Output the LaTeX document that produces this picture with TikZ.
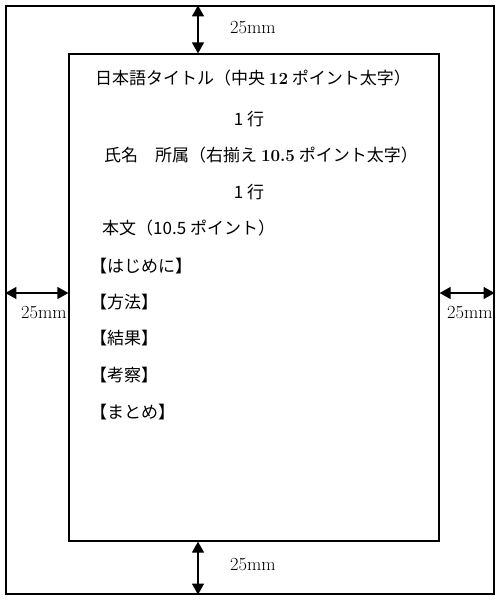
\documentclass[tikz,border=0pt]{standalone}
\usepackage{fontspec}
\newfontfamily\jpfont{Noto Sans CJK JP}
\usetikzlibrary{arrows.meta}
\newcommand{\bnum}[1]{{\normalfont\bfseries #1}}
\tikzset{
  pagebox/.style={
    rectangle, draw, line width=1.2pt, inner sep=0pt
  },
  dimarrow/.style={
    {Triangle[length=11pt,width=12pt]}-{Triangle[length=11pt,width=12pt]},
    line width=1.2pt
  },
  dimlabel/.style={
    font=\fontsize{18.5}{20}\selectfont, inner sep=0pt
  },
  titleline/.style={
    font=\jpfont\fontsize{17}{20}\selectfont, inner sep=0pt, anchor=base
  },
  bodyline/.style={
    font=\jpfont\fontsize{17}{20}\selectfont, inner sep=0pt, anchor=base west
  },
  midline/.style={
    font=\jpfont\fontsize{17}{20}\selectfont, inner sep=0pt, anchor=base
  },
}

\begin{document}
\begin{tikzpicture}[x=1pt,y=-1pt]
  \useasboundingbox (0,0) rectangle (500,600);

  % Paper and text area
  \node[pagebox, minimum width=488pt, minimum height=588pt] (paper) at (250,300) {};
  \node[pagebox, minimum width=370pt, minimum height=487pt] (textarea) at (254,297.5) {};
  \coordinate (vaxis) at (198,300);
  \coordinate (haxis) at (250,293);

  % Margins
  \draw[dimarrow] (paper.north -| vaxis) -- (textarea.north -| vaxis);
  \draw[dimarrow] (textarea.south -| vaxis) -- (paper.south -| vaxis);
  \draw[dimarrow] (paper.west |- haxis) -- (textarea.west |- haxis);
  \draw[dimarrow] (textarea.east |- haxis) -- (paper.east |- haxis);
  \node[dimlabel] (topgap) at (253,28) {25mm};
  \node[dimlabel] (botgap) at (253,565) {25mm};
  \node[dimlabel] (leftgap) at (44,313) {25mm};
  \node[dimlabel] (rightgap) at (470,313) {25mm};

  % Header
  \node[titleline] (title) at (253,84.5) {日本語タイトル（中央 \bnum{12} ポイント太字）};
  \node[midline] (gap1) at (249,125.5) {1 行};
  \node[bodyline] (author) at (104,161.5) {氏名　所属（右揃え \bnum{10.5} ポイント太字）};
  \node[midline] (gap2) at (249,198.5) {1 行};

  % Body
  \node[bodyline] (body) at (102,234.5) {本文（10.5 ポイント）};
  \node[bodyline] (intro) at (90,272.5) {【はじめに】};
  \node[bodyline] (method) at (90,308.5) {【方法】};
  \node[bodyline] (result) at (90,344.5) {【結果】};
  \node[bodyline] (discuss) at (90,381.5) {【考察】};
  \node[bodyline] (summary) at (90,418.5) {【まとめ】};
\end{tikzpicture}
\end{document}
